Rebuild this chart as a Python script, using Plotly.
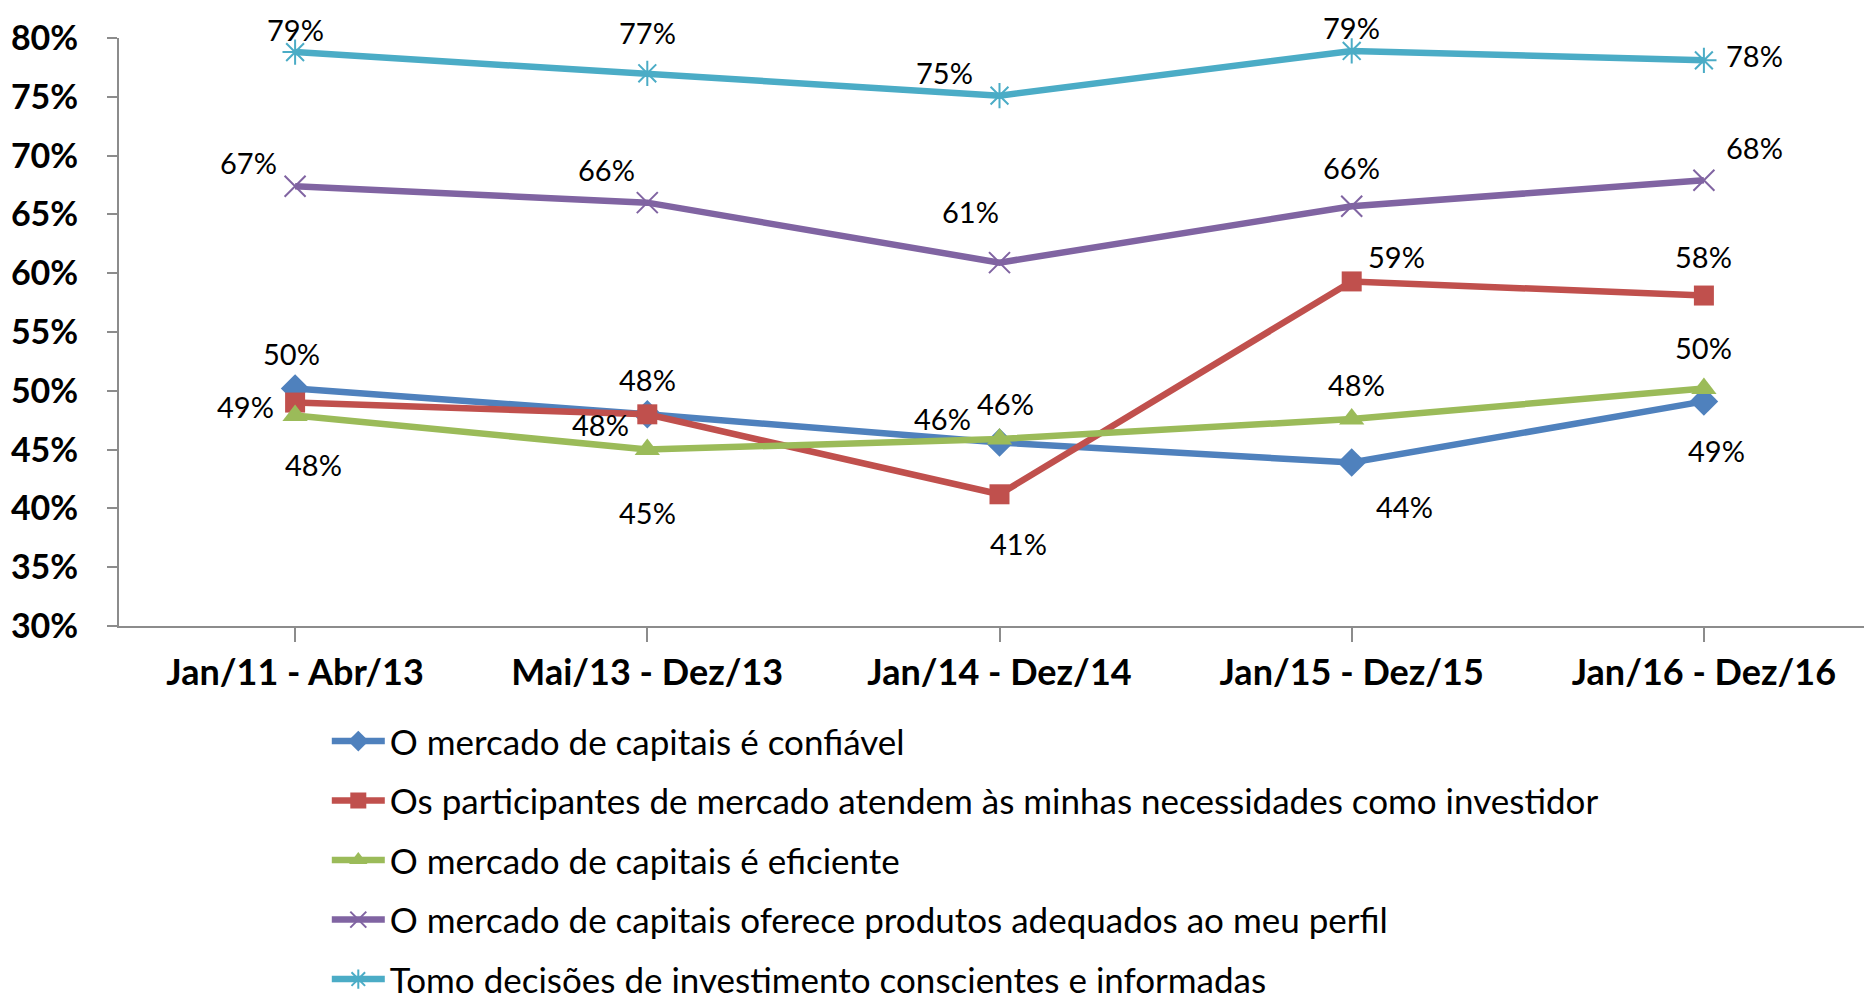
"""Line chart of investor perception of the capital market, 2011-2016"""

import plotly.graph_objects as go

periods = ['Jan/11 - Abr/13', 'Mai/13 - Dez/13', 'Jan/14 - Dez/14', 'Jan/15 - Dez/15', 'Jan/16 - Dez/16']

confiavel = [50.2, 48.0, 45.6, 43.9, 49.1]
participantes = [49.0, 48.0, 41.2, 59.3, 58.1]
eficiente = [47.9, 45.0, 45.9, 47.6, 50.2]
produtos = [67.4, 66.0, 60.9, 65.7, 67.9]
decisoes = [78.8, 77.0, 75.1, 78.9, 78.1]

series_names = [
    'O mercado de capitais é confiável',
    'Os participantes de mercado atendem às minhas necessidades como investidor',
    'O mercado de capitais é eficiente',
    'O mercado de capitais oferece produtos adequados ao meu perfil',
    'Tomo decisões de investimento conscientes e informadas',
]
series_values = [confiavel, participantes, eficiente, produtos, decisoes]

y_ticks = [30, 35, 40, 45, 50, 55, 60, 65, 70, 75, 80]

colors = ['#4F81BD', '#C0504D', '#9BBB59', '#8064A2', '#4BACC6']
symbols = ['diamond', 'square', 'triangle-up', 'x-thin-open', 'asterisk-open']
marker_sizes = [22, 20, 22, 21, 21]

# label offsets in pixels (dx, dy up) for each data label
label_offsets = [
    [(-4, 35), (0, 35), (-57, 24), (53, -44), (13, -49)],
    [(-50, -4), (-47, -10), (19, -49), (45, 25), (0, 39)],
    [(18, -49), (0, -63), (6, 36), (5, 35), (0, 41)],
    [(-47, 24), (-41, 33), (-29, 51), (0, 39), (51, 33)],
    [(0, 23), (0, 41), (-55, 23), (0, 23), (51, 5)],
]

font_family = 'Lato, Liberation Sans, sans-serif'

fig = go.Figure()

for idx, (name, values) in enumerate(zip(series_names, series_values)):
    thin = symbols[idx].endswith('open')
    fig.add_trace(go.Scatter(
        x=list(range(len(periods))),
        y=values,
        mode='lines+markers',
        name=name,
        legendgroup=str(idx),
        line={'width': 6.5, 'color': colors[idx]},
        marker={
            'symbol': symbols[idx],
            'size': marker_sizes[idx],
            'color': colors[idx],
            'line': {'width': 2 if thin else 0, 'color': colors[idx]},
        },
        cliponaxis=False,
        hoverinfo='none',
    ))

    for i, v in enumerate(values):
        dx, dy = label_offsets[idx][i]
        fig.add_annotation(
            x=i, y=v,
            text=f'{round(v):d}%',
            showarrow=False,
            xshift=dx, yshift=dy,
            font={'size': 29, 'color': 'black', 'family': font_family},
        )

fig.update_layout(
    width=1872,
    height=1001,
    xaxis=dict(
        range=[-0.5, 4.5],
        tickvals=list(range(len(periods))),
        ticktext=[f'<b>{p}</b>' for p in periods],
        tickson='boundaries',
        showline=True,
        linecolor='#8c8c8c',
        linewidth=2,
        ticks='outside',
        ticklen=14,
        tickcolor='#8c8c8c',
        tickwidth=2,
        showgrid=False,
        zeroline=False,
        automargin=False,
        tickfont={'size': 36, 'family': font_family},
    ),
    yaxis=dict(
        range=[30, 80],
        tickvals=y_ticks,
        ticktext=[f'<b>{t}%</b>' for t in y_ticks],
        showline=True,
        linecolor='#8c8c8c',
        linewidth=2,
        ticks='outside',
        ticklen=10,
        tickcolor='#8c8c8c',
        tickwidth=2,
        ticklabelstandoff=22,
        showgrid=False,
        zeroline=False,
        automargin=False,
        tickfont={'size': 34, 'family': font_family},
    ),
    legend=dict(
        x=0.118,
        y=-0.146,
        xanchor='left',
        yanchor='top',
        traceorder='grouped',
        tracegroupgap=11,
        font={'size': 35, 'family': font_family, 'color': 'black'},
        itemwidth=53,
    ),
    showlegend=True,
    plot_bgcolor='white',
    paper_bgcolor='white',
    font={'color': 'black', 'family': font_family},
    margin=dict(l=111, r=0, t=30, b=374),
)

fig.write_html('out.html')
